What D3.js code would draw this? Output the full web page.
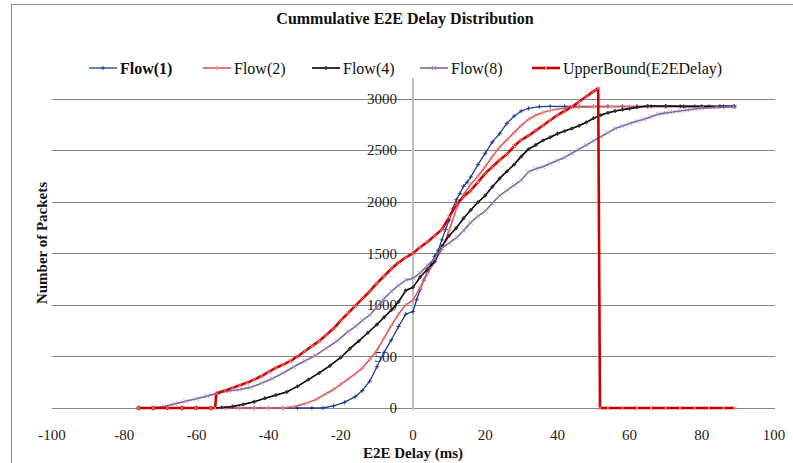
<!DOCTYPE html>
<html><head><meta charset="utf-8">
<script src="https://cdn.jsdelivr.net/npm/d3@7"></script>
<style>body{margin:0;background:#fff}svg{display:block}</style>
</head><body><svg id="c" width="793" height="463" font-family="'Liberation Serif', 'Times New Roman', 'DejaVu Serif', serif"></svg>
<script>
const title = "Cummulative E2E Delay Distribution";
const xTitle = "E2E Delay (ms)";
const yTitle = "Number of Packets";
const xTicks = [-100,-80,-60,-40,-20,0,20,40,60,80,100];
const yTicks = [0,500,1000,1500,2000,2500,3000];
const seriesNames = ["Flow(1)","Flow(2)","Flow(4)","Flow(8)","UpperBound(E2EDelay)"];

const flow1X = [-76,-72,-68,-64,-60,-56,-52,-48,-44,-40,-36,-32,-28,-25,-22,-19,-16,-14,-12,-10,-8,-6,-4,-2,0,1,2,3,4,5,6,7,8,9,10,11,12,13,14,15,16,18,20,22,24,26,28,30,32,35,38,42,46,50,54,58,62,66,70,74,78,82,86,89];
const flow1Y = [0,0,0,0,0,0,0,0,0,0,0,0,0,0,20,55,110,170,260,400,540,660,790,910,935,1050,1150,1240,1320,1400,1470,1530,1630,1730,1820,1930,2020,2080,2150,2190,2240,2360,2470,2580,2660,2760,2830,2880,2905,2922,2925,2925,2925,2925,2925,2925,2925,2925,2925,2925,2925,2925,2925,2925];

const flow2X = [-76,-72,-68,-64,-60,-56,-52,-48,-44,-40,-36,-33,-30,-27,-24,-22,-20,-18,-16,-14,-12,-10,-8,-6,-4,-2,0,2,4,6,8,10,12,14,16,18,20,22,24,26,28,30,32,34,36,38,40,43,46,50,55,60,65,70,75,80,85,89];
const flow2Y = [0,0,0,0,0,0,0,0,0,0,0,15,40,80,140,180,230,280,330,390,470,560,680,800,910,1000,1045,1170,1300,1420,1540,1720,1930,2070,2170,2250,2340,2440,2530,2600,2670,2740,2800,2840,2865,2885,2900,2913,2918,2920,2922,2922,2922,2922,2922,2922,2922,2922];

const flow4X = [-76,-72,-68,-64,-60,-56,-53,-50,-47,-44,-41,-38,-35,-32,-29,-26,-23,-20,-17.5,-15,-12.5,-10,-8,-6,-4,-2,0,2,4,6,8,10,12,14,16,18,20,22,24,26,28,30,32,34,36,38,40,42,44,46,48,50,52,54,56,58,60,62,65,70,75,80,85,89];
const flow4Y = [0,0,0,0,0,0,5,15,35,60,95,125,155,210,275,340,410,490,575,650,730,810,880,950,1030,1140,1170,1270,1345,1420,1570,1670,1745,1840,1920,1995,2060,2145,2226,2295,2360,2440,2510,2550,2595,2625,2660,2685,2710,2737,2770,2810,2840,2862,2880,2893,2903,2915,2928,2928,2925,2925,2925,2925];

const flow8X = [-76,-72,-69,-66,-63,-60,-57,-54,-51,-48,-45,-42,-39,-36,-33,-30,-27,-24,-21,-18,-16,-14,-12,-10,-8,-6,-4,-2,0,2,4,6,8,10,12,14,16,18,20,22,24,26,28,30,32,34,36,38,40,42,44,46,48,50,52,54,56,58,60,62,64,66,68,70,72,74,76,78,80,84,89];
const flow8Y = [0,5,15,40,65,90,115,145,165,180,200,240,285,340,400,455,510,580,650,740,790,850,900,980,1060,1130,1190,1240,1258,1310,1380,1450,1550,1600,1650,1720,1800,1860,1910,1985,2060,2110,2160,2210,2290,2320,2340,2370,2400,2430,2470,2510,2550,2590,2630,2670,2710,2735,2758,2780,2800,2825,2850,2862,2870,2880,2890,2900,2908,2915,2922];

const boundX = [-76,-72,-68,-64,-60,-56,-54.8,-54.5,-52,-50,-48,-46,-44,-42,-40,-38,-36,-34,-32,-30,-28,-26,-24,-22,-20,-18,-16,-14,-12,-10,-8,-6,-4,-2,0,2,4,6,8,10,12,14,16,18,20,22,24,26,28,30,32,34,36,38,40,42,44,46,48,50,51.3,51.8,54,58,62,66,70,74,78,82,86,89];
const boundY = [0,0,0,0,0,0,0,140,170,195,220,245,275,310,350,390,420,455,500,550,600,650,710,770,850,920,990,1060,1130,1210,1280,1350,1410,1460,1500,1560,1610,1670,1730,1850,1975,2050,2110,2190,2275,2340,2405,2460,2540,2600,2640,2690,2740,2790,2840,2880,2920,2970,3020,3070,3100,0,0,0,0,0,0,0,0,0,0,0];

const series = [
  {name: seriesNames[0], xs: flow1X, ys: flow1Y, color: "#1c3d8c", width: 1.3, marker: "plus", mcolor: "#1c3d8c", bold: true},
  {name: seriesNames[1], xs: flow2X, ys: flow2Y, color: "#dc5a57", width: 1.6, marker: "plus", mcolor: "#e88a88"},
  {name: seriesNames[2], xs: flow4X, ys: flow4Y, color: "#000000", width: 1.6, marker: "diamond", mcolor: "#333"},
  {name: seriesNames[3], xs: flow8X, ys: flow8Y, color: "#8064a2", width: 1.6, marker: "x", mcolor: "#a58cc4"},
  {name: seriesNames[4], xs: boundX, ys: boundY, color: "#cc0000", width: 2.6, marker: "x", mcolor: "#ee8888"}
];

const svg = d3.select("#c");
const x = d3.scaleLinear().domain([-100,100]).range([52,774]);
const y = d3.scaleLinear().domain([0,3200]).range([408,78]);

// outer frame
svg.append("rect").attr("x",11.5).attr("y",4.5).attr("width",800).attr("height",480)
  .attr("fill","none").attr("stroke","#8c8c8c").attr("stroke-width",1);

// gridlines
svg.append("g").selectAll("line").data(yTicks).join("line")
  .attr("x1",x(-100)).attr("x2",x(100)+1)
  .attr("y1",d=>Math.round(y(d))+0.5).attr("y2",d=>Math.round(y(d))+0.5)
  .attr("stroke","#868686").attr("stroke-width",1);

// vertical axis line at x=0
svg.append("line").attr("x1",x(0)).attr("x2",x(0)).attr("y1",y(3200)).attr("y2",y(0)+2)
  .attr("stroke","#c0c0c0").attr("stroke-width",2);

// y tick labels
svg.append("g").selectAll("text").data(yTicks).join("text")
  .attr("x",x(0)-16).attr("y",d=>y(d)).attr("dy","0.35em").attr("text-anchor","end")
  .attr("font-size",15).attr("fill","#222").text(d=>d);

// x tick labels
svg.append("g").selectAll("text").data(xTicks).join("text")
  .attr("x",d=>x(d)).attr("y",435).attr("dy","0.35em").attr("text-anchor","middle")
  .attr("font-size",15).attr("fill","#222").text(d=>d);

function drawMarker(g, type, cx, cy, color){
  const s = 2.2;
  if(type==="plus"){
    g.append("path").attr("d",`M${cx-s},${cy}H${cx+s}M${cx},${cy-s}V${cy+s}`).attr("stroke",color).attr("stroke-width",0.9).attr("fill","none");
  } else if(type==="x"){
    g.append("path").attr("d",`M${cx-s},${cy-s}L${cx+s},${cy+s}M${cx-s},${cy+s}L${cx+s},${cy-s}`).attr("stroke",color).attr("stroke-width",0.9).attr("fill","none");
  } else {
    g.append("path").attr("d",`M${cx},${cy-s}L${cx+s},${cy}L${cx},${cy+s}L${cx-s},${cy}Z`).attr("fill",color).attr("stroke","none");
  }
}

const line = d3.line().x(d=>x(d[0])).y(d=>y(d[1]));
series.forEach(s=>{
  const pts = s.xs.map((v,i)=>[v,s.ys[i]]);
  const g = svg.append("g");
  g.append("path").datum(pts).attr("d",line).attr("fill","none")
    .attr("stroke",s.color).attr("stroke-width",s.width).attr("stroke-linejoin","round");
  pts.forEach(p=>drawMarker(g,s.marker,x(p[0]),y(p[1]),s.mcolor));
});

// title
svg.append("text").attr("x",405).attr("y",18).attr("dy","0.35em").attr("text-anchor","middle")
  .attr("font-size",16).attr("font-weight","bold").attr("fill","#111").text(title);

// axis titles
svg.append("text").attr("x",413).attr("y",453).attr("dy","0.35em").attr("text-anchor","middle")
  .attr("font-size",15).attr("font-weight","bold").attr("fill","#111").text(xTitle);
svg.append("text").attr("transform","translate(42,243) rotate(-90)").attr("dy","0.35em").attr("text-anchor","middle")
  .attr("font-size",15).attr("font-weight","bold").attr("fill","#111").text(yTitle);

// legend
const legX = [89,203,312,420,532];
const legY = 68;
series.forEach((s,i)=>{
  const g = svg.append("g");
  const x0 = legX[i], x1 = legX[i]+28;
  g.append("line").attr("x1",x0).attr("x2",x1).attr("y1",legY).attr("y2",legY)
    .attr("stroke",s.color).attr("stroke-width",s.width);
  drawMarker(g,s.marker,(x0+x1)/2,legY,s.mcolor);
  g.append("text").attr("x",x1+3).attr("y",legY).attr("dy","0.35em")
    .attr("font-size",16).attr("font-weight",s.bold?"bold":"normal").attr("fill","#111").text(s.name);
});
</script></body></html>
